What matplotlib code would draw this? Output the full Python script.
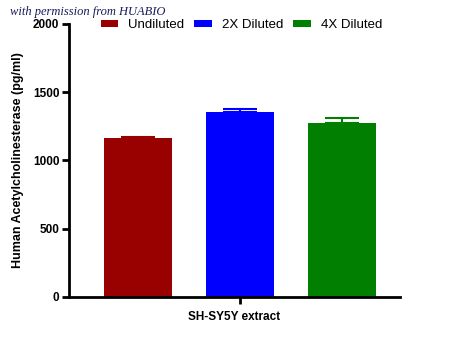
import matplotlib.pyplot as plt
from matplotlib.patches import Patch

plt.rcParams['font.family'] = ['Liberation Sans', 'DejaVu Sans']

groups = ['Undiluted', '2X Diluted', '4X Diluted']
means = [1165, 1357, 1275]
errors = [7, 18, 38]
colors = ['#990000', '#0000FF', '#007F00']
positions = [0, 1, 2]

fig = plt.figure(figsize=(4.5, 3.37), dpi=100)
ax = fig.add_axes([0.1533, 0.1187, 0.7357, 0.8101])

for x, m, e, c in zip(positions, means, errors, colors):
    ax.bar(x, m, width=0.667, color=c, edgecolor='none', zorder=2)
    ax.errorbar(x, m, yerr=[[0], [e]], color=c, capsize=12, capthick=1.5,
                elinewidth=1.5, zorder=3)

ax.set_xlim(-0.68, 2.57)
ax.set_ylim(0, 2000)
ax.set_yticks([0, 500, 1000, 1500, 2000])
ax.set_xticks([1])
ax.set_xticklabels([])
ax.set_xlabel('SH-SY5Y extract', fontsize=8.5, fontweight='bold', labelpad=3)
ax.set_ylabel('Human Acetylcholinesterase (pg/ml)', fontsize=9,
              fontweight='bold', labelpad=6)

for s in ['top', 'right']:
    ax.spines[s].set_visible(False)
for s in ['left', 'bottom']:
    ax.spines[s].set_linewidth(2)
ax.tick_params(width=2, length=5, labelsize=8.5, pad=2)
for lbl in ax.get_yticklabels():
    lbl.set_fontweight('bold')

handles = [Patch(facecolor=c, label=g) for g, c in zip(groups, colors)]
ax.legend(handles=handles, loc='center left', bbox_to_anchor=(0.08, 0.995),
          ncol=3, frameon=False, fontsize=9.5, handlelength=1.3,
          handleheight=0.4, columnspacing=0.75, handletextpad=0.8,
          borderaxespad=0)

fig.text(0.022, 0.955, 'with permission from HUABIO', fontsize=9,
         style='italic', family='Liberation Serif', color='#1a1a5a')

fig.savefig('out.png', dpi=100)
